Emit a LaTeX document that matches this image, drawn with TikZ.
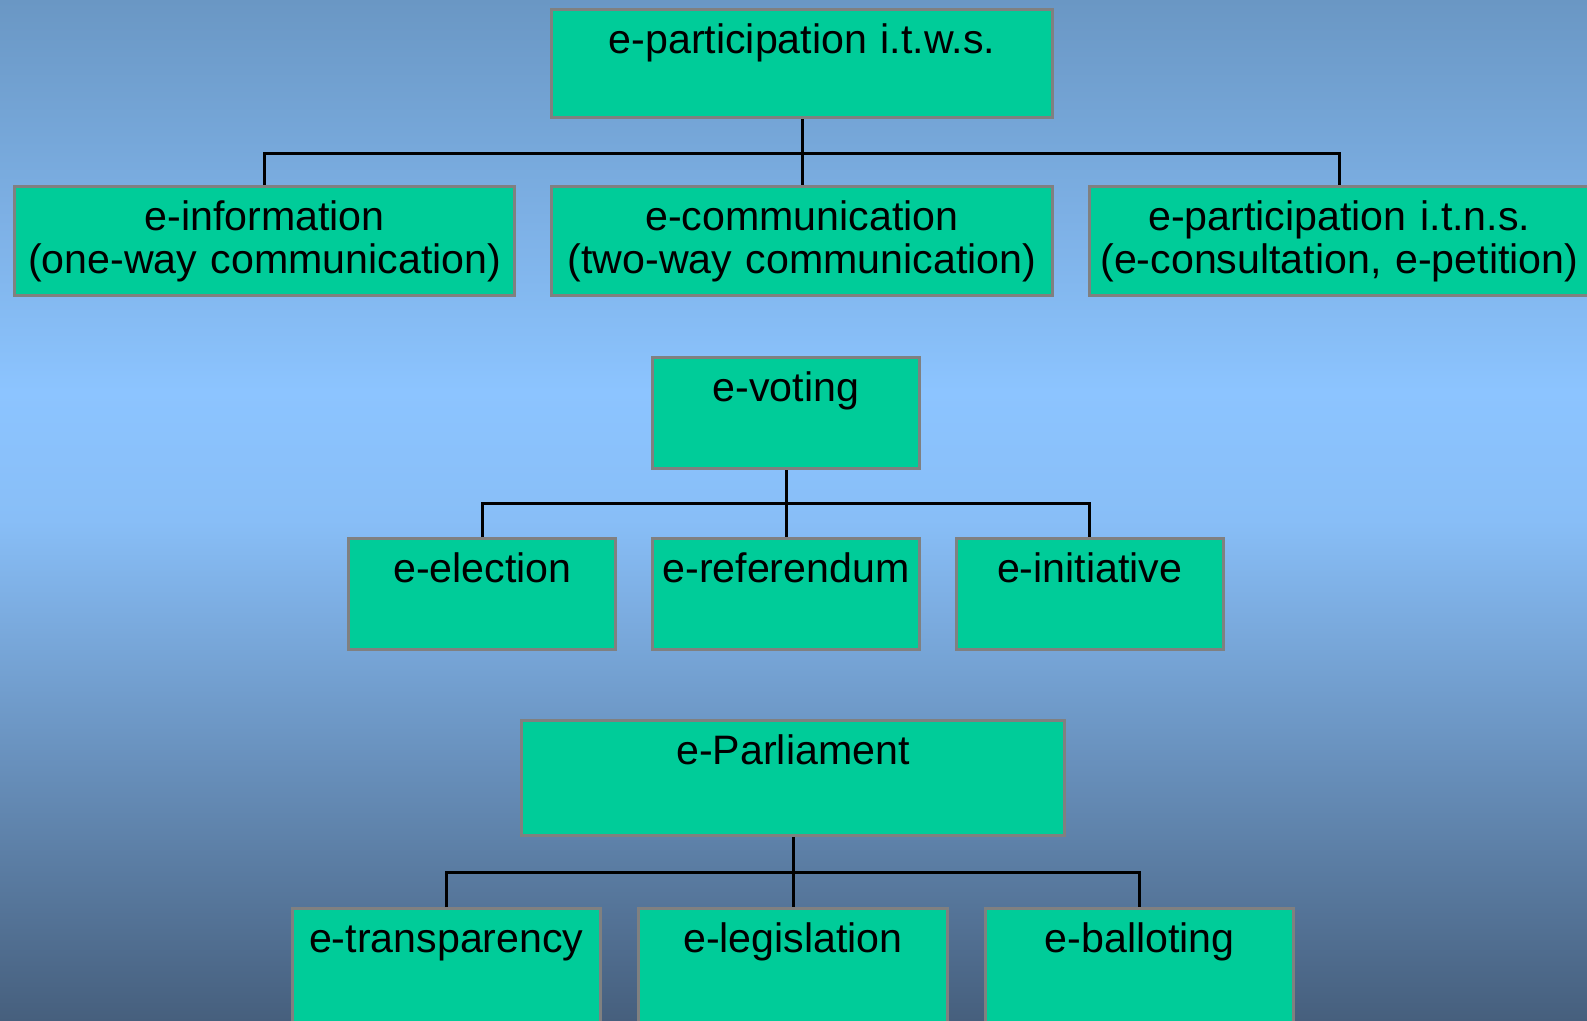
\documentclass[tikz,border=0pt]{standalone}
\usepackage{fontspec}
\setmainfont{Liberation Sans}
\usetikzlibrary{positioning}
\definecolor{boxgreen}{RGB}{0,204,153}
\definecolor{boxgray}{RGB}{128,128,128}
\definecolor{skytop}{RGB}{106,151,196}
\definecolor{skymid}{RGB}{140,196,255}
\definecolor{skylow}{RGB}{136,190,247}
\definecolor{skybottom}{RGB}{70,95,125}

\begin{document}
\begin{tikzpicture}[
  x=0.01cm, y=-0.01cm,
  box/.style={draw=boxgray, fill=boxgreen, line width=0.03cm, anchor=north,
    inner sep=0pt, align=center, text height=0.44cm,
    font=\fontsize{11.7pt}{12.1pt}\selectfont},
  link/.style={line width=0.03cm}
]
\clip (0,0) rectangle (1587,1021);
\shade[top color=skytop, bottom color=skymid] (0,0) rectangle (1587,392);
\shade[top color=skymid, bottom color=skylow] (0,390) rectangle (1587,522);
\shade[top color=skylow, bottom color=skybottom] (0,520) rectangle (1587,1021);

\node[box, text width=5cm, text depth=0.64cm] (itws) at (802,8) {e-participation i.t.w.s.};
\node[box, text width=5cm, text depth=0.65cm] (ecomm) at (802,185) {e-communication\\(two-way communication)};
\node[box, text width=5cm, text depth=0.65cm, left=0.34cm of ecomm] (einfo) {e-information\\(one-way communication)};
\node[box, text width=5cm, text depth=0.65cm, right=0.34cm of ecomm] (eitns) {e-participation i.t.n.s.\\(e-consultation, e-petition)};

\node[box, text width=2.67cm, text depth=0.67cm] (evoting) at (786,356) {e-voting};
\node[box, text width=2.67cm, text depth=0.67cm] (eref) at (786,537) {e-referendum};
\node[box, text width=2.67cm, text depth=0.67cm, left=0.335cm of eref] (eelect) {e-election};
\node[box, text width=2.67cm, text depth=0.67cm, right=0.335cm of eref] (einit) {e-initiative};

\node[box, text width=5.43cm, text depth=0.71cm] (eparl) at (793,719) {e-Parliament};
\node[box, text width=3.08cm, text depth=0.71cm] (elegis) at (793,907) {e-legislation};
\node[box, text width=3.08cm, text depth=0.71cm, left=0.355cm of elegis] (etrans) {e-transparency};
\node[box, text width=3.08cm, text depth=0.71cm, right=0.355cm of elegis] (eball) {e-balloting};

\coordinate (bar1) at (802,153);
\coordinate (bar2) at (786,503);
\coordinate (bar3) at (793,872);
\draw[link] (itws) -- (ecomm);
\draw[link] (einfo.north) |- (bar1) -| (eitns.north);
\draw[link] (evoting) -- (eref);
\draw[link] (eelect.north) |- (bar2) -| (einit.north);
\draw[link] (eparl) -- (elegis);
\draw[link] (etrans.north) |- (bar3) -| (eball.north);
\end{tikzpicture}
\end{document}
